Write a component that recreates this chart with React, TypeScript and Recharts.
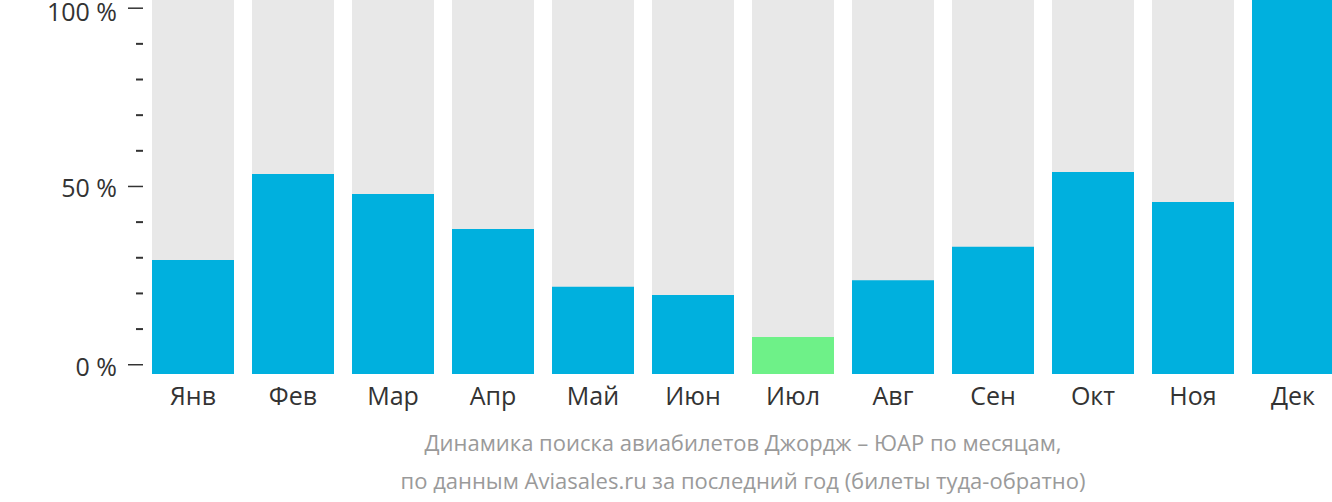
import React from 'react';
import { Bar, BarChart, Cell, XAxis, YAxis } from 'recharts';

const months = ['Янв', 'Фев', 'Мар', 'Апр', 'Май', 'Июн', 'Июл', 'Авг', 'Сен', 'Окт', 'Ноя', 'Дек'];
const searches = [30.5, 53.5, 48.1, 38.8, 23.3, 21.1, 9.9, 25.1, 34.0, 54.0, 46.0, 100];
const lowMonth = 'Июл';
const yTicks = [0, 10, 20, 30, 40, 50, 60, 70, 80, 90, 100];
const majorTicks = [0, 50, 100];
const caption = [
  'Динамика поиска авиабилетов Джордж – ЮАР по месяцам,',
  'по данным Aviasales.ru за последний год (билеты туда-обратно)',
];

const data = months.map((m, i) => ({ month: m, value: searches[i] }));

const AXIS_W = 143;
const FONT = '"Open Sans", sans-serif';

const PercentTick = (props: any) => {
  const { y, payload } = props;
  const major = majorTicks.includes(payload.value);
  // the top label sits a little lower so it isn't clipped
  const ty = payload.value === 100 ? y + 3 : y + 1;
  return (
    <g>
      <line
        x1={AXIS_W - (major ? 15 : 7)}
        x2={AXIS_W}
        y1={y}
        y2={y}
        stroke='#333'
        strokeWidth={major ? 1.5 : 2}
      />
      {major && (
        <text x={AXIS_W - 26} y={ty} textAnchor='end' dominantBaseline='central' fontSize={25} fill='#333' fontFamily={FONT}>
          {payload.value} %
        </text>
      )}
    </g>
  );
};

export default function App() {
  return (
    <div style={{ position: 'fixed', left: 0, top: 0, width: 1332, height: 502, overflow: 'hidden', background: '#fff' }}>
      <BarChart width={1343} height={502} data={data} margin={{ top: 0, right: 0, bottom: 0, left: 0 }}>
        <XAxis
          dataKey='month'
          height={128}
          tickLine={false}
          axisLine={false}
          tickMargin={7}
          tick={{ fontSize: 25, fill: '#333', fontFamily: FONT }}
        />
        <YAxis
          yAxisId='axis'
          width={AXIS_W}
          domain={[-2.6, 102.3]}
          allowDataOverflow
          ticks={yTicks}
          interval={0}
          axisLine={false}
          tickLine={false}
          tick={<PercentTick />}
        />
        <YAxis yAxisId='bars' hide domain={[0, 100]} />
        <Bar yAxisId='bars' dataKey='value' barSize={82} fill='#00b0de' background={{ fill: '#e8e8e8' }} isAnimationActive={false}>
          {data.map((d) => (
            <Cell key={d.month} fill={d.month === lowMonth ? '#6ef188' : '#00b0de'} />
          ))}
        </Bar>
      </BarChart>
      <div
        style={{
          position: 'absolute',
          left: AXIS_W,
          top: 423,
          width: 1200,
          textAlign: 'center',
          fontFamily: FONT,
          fontSize: 22,
          lineHeight: '38px',
          color: '#9a9a9a',
        }}
      >
        {caption.map((c) => (
          <div key={c}>{c}</div>
        ))}
      </div>
    </div>
  );
}
